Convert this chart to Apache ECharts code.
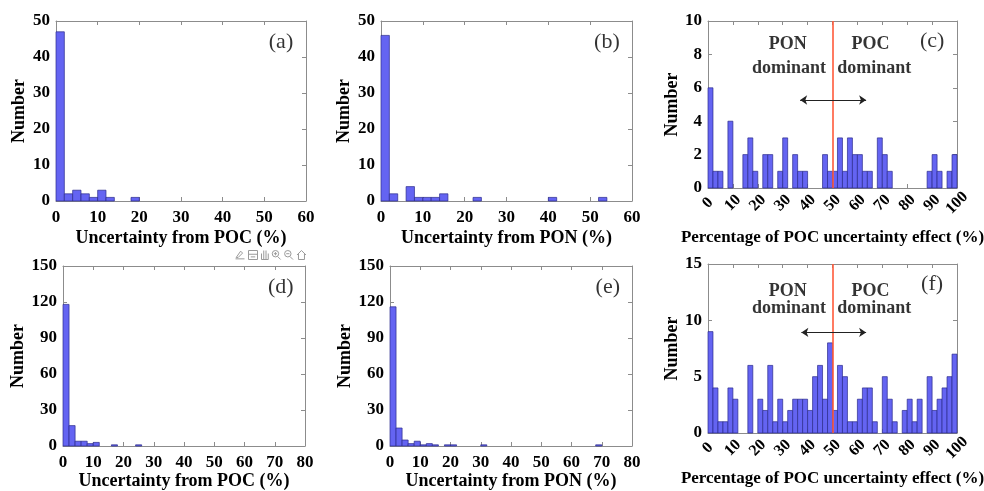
<!DOCTYPE html>
<html>
<head>
<meta charset="utf-8">
<script src="https://cdn.jsdelivr.net/npm/echarts@6/dist/echarts.min.js"></script>
<style>
html,body{margin:0;padding:0;background:#fff;}
#chart{width:984px;height:491px;}
</style>
</head>
<body>
<div id="chart"></div>
<script>
// ---- data (bin width 2 %, bins start at 0) ----
const binWidth = 2;
const aCounts = [47, 2, 3, 2, 1, 3, 1, 0, 0, 1];
const bCounts = [46, 2, 0, 4, 1, 1, 1, 2, 0, 0, 0, 1, 0, 0, 0, 0, 0, 0, 0, 0, 1, 0, 0, 0, 0, 0, 1];
const cCounts = [6, 1, 1, 0, 4, 0, 0, 2, 3, 1, 0, 2, 2, 0, 1, 3, 0, 2, 1, 1, 0, 0, 0, 2, 1,
                 1, 3, 1, 3, 2, 2, 1, 1, 0, 3, 2, 1, 0, 0, 0, 0, 0, 0, 0, 1, 2, 1, 0, 1, 2];
const dCounts = [118, 17, 4, 4, 2, 3, 0, 0, 1, 0, 0, 0, 1];
const eCounts = [116, 15, 5, 2, 4, 1, 2, 1, 0, 1, 1, 0, 0, 0, 0, 1, 0, 0, 0, 0,
                 0, 0, 0, 0, 0, 0, 0, 0, 0, 0, 0, 0, 0, 0, 1];
const fCounts = [9, 4, 1, 1, 4, 3, 0, 0, 6, 0, 3, 2, 6, 1, 3, 1, 2, 3, 3, 3, 2, 5, 6, 3, 8,
                 2, 6, 5, 1, 1, 3, 4, 4, 1, 0, 5, 3, 1, 0, 2, 3, 1, 3, 0, 5, 2, 3, 4, 5, 7];
const panelLabels = ['(a)', '(b)', '(c)', '(d)', '(e)', '(f)'];
const xTitles = ['Uncertainty from POC (%)', 'Uncertainty from PON (%)', 'Percentage of POC uncertainty effect (%)',
                 'Uncertainty from POC (%)', 'Uncertainty from PON (%)', 'Percentage of POC uncertainty effect (%)'];
const yTitle = 'Number';
const divideAt = 50;

// ---- layout ----
const FONT = '"Liberation Serif", "Times New Roman", serif';
const AX = '#8c8c8c';
const panels = [
  {counts: aCounts, grid: {left: 56, top: 21, width: 250, height: 180}, x: [0, 60, 10], y: [0, 50, 10], yGap: 28, xGap: 28, rot: 0, tfs: 18},
  {counts: bCounts, grid: {left: 381, top: 21, width: 251, height: 180}, x: [0, 60, 10], y: [0, 50, 10], yGap: 28, xGap: 28, rot: 0, tfs: 18},
  {counts: cCounts, grid: {left: 708, top: 21, width: 249, height: 167}, x: [0, 100, 10], y: [0, 10, 2], yGap: 26, xGap: 41, rot: 45, tfs: 17,
   annot: {pon: [32, 8.63], pond: [32.5, 7.14], poc: [65.3, 8.63], pocd: [66.8, 7.14], arrow: [37, 63.5, 5.27]}},
  {counts: dCounts, grid: {left: 63, top: 266, width: 242, height: 180}, x: [0, 80, 10], y: [0, 150, 30], yGap: 35, xGap: 19, rot: 0, tfs: 18},
  {counts: eCounts, grid: {left: 390, top: 266, width: 242, height: 180}, x: [0, 80, 10], y: [0, 150, 30], yGap: 35, xGap: 19, rot: 0, tfs: 18},
  {counts: fCounts, grid: {left: 708, top: 264, width: 249, height: 169}, x: [0, 100, 10], y: [0, 15, 5], yGap: 26, xGap: 37, rot: 45, tfs: 17,
   annot: {pon: [32, 12.6], pond: [32.5, 11.1], poc: [65.3, 12.6], pocd: [66.8, 11.1], arrow: [37.5, 63.5, 8.93]}}
];

const grids = [], xAxes = [], yAxes = [], series = [];
panels.forEach((p, i) => {
  grids.push(Object.assign({containLabel: false, outerBoundsMode: 'none'}, p.grid));
  const baseX = {
    type: 'value', gridIndex: i, min: p.x[0], max: p.x[1], interval: p.x[2],
    splitLine: {show: false},
    axisLine: {show: true, onZero: false, lineStyle: {color: AX, width: 1}},
    axisTick: {show: true, inside: true, length: 4, lineStyle: {color: AX}}
  };
  const baseY = {
    type: 'value', gridIndex: i, min: p.y[0], max: p.y[1], interval: p.y[2],
    splitLine: {show: false},
    axisLine: {show: true, onZero: false, lineStyle: {color: AX, width: 1}},
    axisTick: {show: true, inside: true, length: 4, lineStyle: {color: AX}}
  };
  xAxes.push(Object.assign({}, baseX, {
    position: 'bottom',
    name: xTitles[i], nameLocation: 'middle', nameGap: p.xGap,
    nameTextStyle: {fontFamily: FONT, fontWeight: 'bold', fontSize: p.tfs, color: '#000'},
    axisLabel: p.rot ? {
      rotate: 45, align: 'center', verticalAlign: 'middle', margin: 15,
      fontFamily: FONT, fontWeight: 'bold', fontSize: 16, color: '#000'
    } : {margin: 8, fontFamily: FONT, fontWeight: 'bold', fontSize: 17, color: '#000'}
  }));
  xAxes.push(Object.assign({}, baseX, {position: 'top', axisLabel: {show: false}}));
  yAxes.push(Object.assign({}, baseY, {
    position: 'left',
    name: yTitle, nameLocation: 'middle', nameGap: p.yGap,
    nameTextStyle: {fontFamily: FONT, fontWeight: 'bold', fontSize: 18, color: '#000'},
    axisLabel: {margin: 6, fontFamily: FONT, fontWeight: 'bold', fontSize: 17, color: '#000'}
  }));
  yAxes.push(Object.assign({}, baseY, {position: 'right', axisLabel: {show: false}}));

  const data = p.counts.map((c, k) => [k * binWidth, (k + 1) * binWidth, c]).filter(d => d[2] > 0);
  series.push({
    type: 'custom', xAxisIndex: 2 * i, yAxisIndex: 2 * i, data: data,
    encode: {x: [0, 1], y: 2},
    renderItem: function (params, api) {
      const p0 = api.coord([api.value(0), api.value(2)]);
      const p1 = api.coord([api.value(1), 0]);
      return {
        type: 'rect',
        shape: {x: p0[0], y: p0[1], width: p1[0] - p0[0], height: p1[1] - p0[1]},
        style: {fill: '#6464F2', stroke: '#2b2b8c', lineWidth: 0.7}
      };
    },
    silent: true
  });

  // panel label and annotations
  const lbl = {
    type: 'scatter', xAxisIndex: 2 * i, yAxisIndex: 2 * i, silent: true,
    symbolSize: 1, itemStyle: {color: 'rgba(0,0,0,0)'},
    label: {show: true, position: 'inside', fontFamily: FONT, fontSize: 22, color: '#000',
      formatter: (q) => q.data.t},
    data: [{value: [p.x[1] * 0.9, p.y[1] * 0.88], t: panelLabels[i]}]
  };
  if (p.annot) {
    const a = p.annot;
    const txt = {fontFamily: FONT, fontWeight: 'bold', fontSize: 18, color: '#000'};
    lbl.data.push(
      {value: a.pon, t: 'PON', label: txt},
      {value: a.pond, t: 'dominant', label: txt},
      {value: a.poc, t: 'POC', label: txt},
      {value: a.pocd, t: 'dominant', label: txt}
    );
    lbl.markLine = {
      silent: true, animation: false,
      label: {show: false},
      data: [
        [{xAxis: divideAt, yAxis: p.y[0], symbol: 'none', lineStyle: {color: '#ff5a3a', width: 1.6, type: 'solid'}},
         {xAxis: divideAt, yAxis: p.y[1], symbol: 'none'}],
        [{coord: [a.arrow[0], a.arrow[2]], symbol: 'arrow', symbolSize: 7, lineStyle: {color: '#222', width: 1, type: 'solid'}},
         {coord: [a.arrow[1], a.arrow[2]], symbol: 'arrow', symbolSize: 7}]
      ]
    };
  }
  series.push(lbl);
});

const chart = echarts.init(document.getElementById('chart'), null, {renderer: 'canvas'});
chart.setOption({
  animation: false,
  backgroundColor: '#fff',
  grid: grids, xAxis: xAxes, yAxis: yAxes, series: series,
  toolbox: {
    show: true, left: 233, top: 248, itemSize: 9, itemGap: -1, padding: 0,
    iconStyle: {borderColor: '#9a9a9a', borderWidth: 1},
    feature: {
      myBrush: {show: true, title: 'brush', icon: 'path://M2,14 L9,4 L12,7 L5,14 Z M1,16 L15,16', onclick: function () {}},
      myTip: {show: true, title: 'tip', icon: 'path://M2,2 L14,2 L14,14 L2,14 Z M2,7 L14,7 M5,10.5 L11,10.5', onclick: function () {}},
      myPan: {show: true, title: 'pan', icon: 'path://M4,15 L4,7 M7,15 L7,3 M10,15 L10,3 M13,15 L13,7 M4,15 L13,15', onclick: function () {}},
      myZin: {show: true, title: 'zoom in', icon: 'path://M7,1 A5,5 0 1 1 6.99,1 Z M10.5,10.5 L15,15 M4.5,6 L9.5,6 M7,3.5 L7,8.5', onclick: function () {}},
      myZout: {show: true, title: 'zoom out', icon: 'path://M7,1 A5,5 0 1 1 6.99,1 Z M10.5,10.5 L15,15 M4.5,6 L9.5,6', onclick: function () {}},
      myHome: {show: true, title: 'home', icon: 'path://M2,8 L8,2 L14,8 M4,6.5 L4,14 L12,14 L12,6.5', onclick: function () {}}
    }
  }
});
</script>
</body>
</html>
